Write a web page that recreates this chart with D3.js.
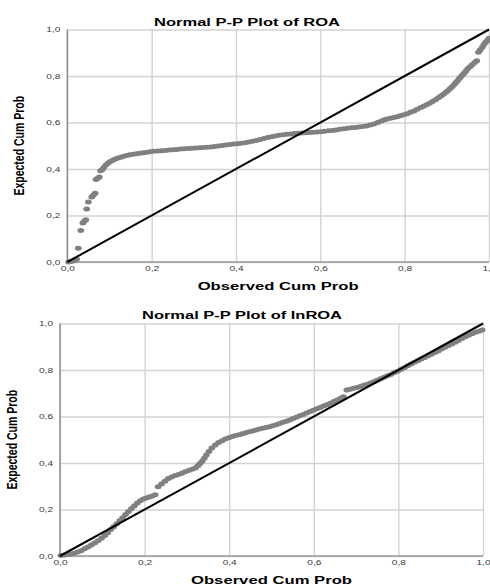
<!DOCTYPE html>
<html>
<head>
<meta charset="utf-8">
<script src="https://cdn.jsdelivr.net/npm/d3@7"></script>
<style>
  body { margin: 0; background: #fff; }
  svg { display: block; }
</style>
</head>
<body>
<div class="pp-charts"></div>
<script>
// Normal P-P plots (SPSS style), two panels stacked

var tick_values = [0, 0.2, 0.4, 0.6, 0.8, 1.0];
var x_label = "Observed Cum Prob";
var y_label = "Expected Cum Prob";

var roa_title = "Normal P-P Plot of ROA";
// [observed cum prob, expected cum prob]
var roa_points = [
  [0.003,0.000],[0.008,0.002],[0.013,0.004],[0.018,0.006],[0.022,0.012],[0.026,0.059],[0.032,0.135],
  [0.037,0.168],[0.040,0.175],[0.044,0.182],[0.046,0.228],[0.050,0.258],[0.058,0.280],[0.062,0.288],
  [0.066,0.296],[0.068,0.355],[0.072,0.360],[0.076,0.366],[0.079,0.392],[0.083,0.398],[0.087,0.408],
  [0.092,0.418],[0.097,0.426],[0.102,0.432],[0.108,0.438],[0.114,0.443],[0.120,0.447],[0.127,0.451],
  [0.134,0.455],[0.141,0.458],[0.148,0.461],[0.156,0.463],[0.164,0.466],[0.172,0.468],[0.180,0.470],
  [0.188,0.472],[0.196,0.474],[0.205,0.476],[0.214,0.477],[0.223,0.479],[0.232,0.480],[0.241,0.482],
  [0.250,0.483],[0.259,0.484],[0.268,0.486],[0.277,0.487],[0.286,0.488],[0.295,0.489],[0.304,0.490],
  [0.313,0.491],[0.322,0.492],[0.331,0.494],[0.340,0.495],[0.349,0.497],[0.358,0.499],[0.367,0.501],
  [0.376,0.503],[0.385,0.505],[0.394,0.507],[0.403,0.509],[0.412,0.511],[0.421,0.513],[0.430,0.516],
  [0.439,0.519],[0.448,0.523],[0.457,0.527],[0.466,0.531],[0.475,0.535],[0.484,0.539],[0.493,0.542],
  [0.502,0.545],[0.511,0.547],[0.520,0.549],[0.529,0.551],[0.538,0.553],[0.547,0.554],[0.556,0.555],
  [0.565,0.556],[0.574,0.557],[0.583,0.558],[0.592,0.559],[0.601,0.560],[0.610,0.562],[0.619,0.564],
  [0.628,0.566],[0.637,0.568],[0.646,0.571],[0.655,0.573],[0.664,0.575],[0.673,0.577],[0.682,0.579],
  [0.691,0.581],[0.700,0.583],[0.709,0.585],[0.718,0.589],[0.727,0.594],[0.736,0.600],[0.745,0.606],
  [0.752,0.612],[0.758,0.615],[0.766,0.618],[0.774,0.621],[0.782,0.625],[0.790,0.629],[0.798,0.633],
  [0.806,0.638],[0.814,0.644],[0.822,0.650],[0.830,0.657],[0.838,0.664],[0.845,0.670],[0.852,0.676],
  [0.859,0.683],[0.866,0.690],[0.873,0.698],[0.880,0.706],[0.886,0.714],[0.892,0.722],[0.898,0.730],
  [0.903,0.738],[0.908,0.746],[0.913,0.755],[0.918,0.765],[0.922,0.773],[0.926,0.781],[0.930,0.790],
  [0.934,0.798],[0.938,0.806],[0.942,0.814],[0.946,0.823],[0.950,0.832],[0.955,0.840],[0.960,0.848],
  [0.966,0.858],[0.971,0.866],[0.975,0.902],[0.979,0.912],[0.984,0.924],[0.988,0.935],[0.992,0.945],
  [0.996,0.953],[1.000,0.962]
];

var lnroa_title = "Normal P-P Plot of lnROA";
var lnroa_points = [
  [0.002,0.002],[0.010,0.004],[0.018,0.006],[0.026,0.009],[0.034,0.012],[0.042,0.017],[0.050,0.023],
  [0.058,0.031],[0.066,0.039],[0.074,0.047],[0.082,0.056],[0.090,0.066],[0.098,0.076],[0.106,0.088],
  [0.113,0.100],[0.120,0.114],[0.127,0.126],[0.134,0.139],[0.141,0.152],[0.148,0.165],[0.155,0.178],
  [0.162,0.191],[0.169,0.204],[0.176,0.216],[0.183,0.228],[0.190,0.238],[0.197,0.245],[0.204,0.250],
  [0.211,0.254],[0.218,0.258],[0.225,0.263],[0.232,0.298],[0.240,0.310],[0.248,0.322],[0.256,0.333],
  [0.264,0.340],[0.272,0.346],[0.280,0.351],[0.288,0.356],[0.296,0.362],[0.304,0.368],[0.312,0.373],
  [0.320,0.378],[0.326,0.388],[0.331,0.398],[0.336,0.408],[0.341,0.420],[0.346,0.434],[0.352,0.450],
  [0.359,0.464],[0.367,0.477],[0.375,0.488],[0.383,0.496],[0.391,0.503],[0.399,0.509],[0.407,0.514],
  [0.415,0.518],[0.423,0.522],[0.431,0.526],[0.439,0.530],[0.447,0.534],[0.455,0.538],[0.463,0.542],
  [0.471,0.546],[0.479,0.550],[0.487,0.553],[0.495,0.556],[0.503,0.560],[0.511,0.565],[0.519,0.570],
  [0.527,0.575],[0.535,0.580],[0.543,0.585],[0.551,0.591],[0.559,0.597],[0.567,0.603],[0.575,0.609],
  [0.583,0.615],[0.591,0.621],[0.599,0.627],[0.607,0.633],[0.615,0.639],[0.623,0.645],[0.631,0.651],
  [0.639,0.657],[0.647,0.664],[0.655,0.671],[0.663,0.678],[0.670,0.685],[0.678,0.714],[0.686,0.717],
  [0.694,0.721],[0.702,0.725],[0.710,0.729],[0.718,0.734],[0.726,0.739],[0.734,0.744],[0.742,0.750],
  [0.750,0.756],[0.758,0.762],[0.766,0.769],[0.774,0.775],[0.782,0.781],[0.790,0.788],[0.798,0.795],
  [0.806,0.802],[0.814,0.810],[0.822,0.818],[0.830,0.826],[0.838,0.833],[0.846,0.840],[0.854,0.847],
  [0.862,0.854],[0.870,0.861],[0.878,0.868],[0.886,0.875],[0.894,0.882],[0.902,0.890],[0.910,0.898],
  [0.918,0.905],[0.926,0.912],[0.934,0.919],[0.942,0.927],[0.950,0.935],[0.958,0.943],[0.966,0.950],
  [0.974,0.956],[0.982,0.962],[0.990,0.967],[0.998,0.972]
];

var svg = d3.select('.pp-charts')
  .append('svg')
    .attr('width', 490)
    .attr('height', 585);

// comma as decimal mark: 0,2 0,4 ...
var comma = d3.formatLocale({decimal: ",", thousands: ".", grouping: [3], currency: ["", ""]}).format(".1f");

// the source picture is stretched sideways, so is its text
var stretch = 1.45;
var font = "'Liberation Sans', Arial, sans-serif";

function drawPP(cfg) {
  var w = cfg.right - cfg.left;
  var h = cfg.bottom - cfg.top;

  var x = d3.scaleLinear().domain([0, 1]).range([0, w]);
  var y = d3.scaleLinear().domain([0, 1]).range([h, 0]);

  var g = svg.append('g')
    .attr('transform', 'translate(' + cfg.left + ',' + cfg.top + ')');

  // grid + tick labels
  var xAxis = g.append('g')
    .attr('transform', 'translate(0,' + h + ')')
    .call(d3.axisBottom(x).tickValues(tick_values).tickFormat(comma).tickSize(-h).tickPadding(4.5));
  var yAxis = g.append('g')
    .call(d3.axisLeft(y).tickValues(tick_values).tickFormat(comma).tickSize(-w).tickPadding(4.8));

  [xAxis, yAxis].forEach(function(a) {
    a.select('.domain').remove();
    a.selectAll('line').attr('stroke', '#d3d3d3').attr('stroke-width', 1.4);
    a.selectAll('text')
      .attr('fill', '#3a3a3a')
      .style('font-family', font)
      .style('font-size', '7px')
      .attr('transform', 'scale(' + stretch + ',1)');
  });

  // left and bottom axis lines
  g.append('line').attr('x1', 0).attr('x2', 0).attr('y1', 0).attr('y2', h)
    .attr('stroke', '#8a8a8a').attr('stroke-width', 1.4);
  g.append('line').attr('x1', 0).attr('x2', w).attr('y1', h).attr('y2', h)
    .attr('stroke', '#9a9a9a').attr('stroke-width', 1.4);

  // points
  g.selectAll('ellipse.pt')
    .data(cfg.points)
    .enter()
    .append('ellipse')
      .attr('class', 'pt')
      .attr('cx', function(d) { return x(d[0]); })
      .attr('cy', function(d) { return y(d[1]); })
      .attr('rx', 3.4)
      .attr('ry', 2.5)
      .attr('fill', '#808080');

  // reference diagonal
  g.append('line')
    .attr('x1', x(0)).attr('y1', y(0))
    .attr('x2', x(1)).attr('y2', y(1))
    .attr('stroke', '#000')
    .attr('stroke-width', 2);

  // title
  svg.append('text')
    .attr('x', cfg.titleX)
    .attr('y', cfg.titleY)
    .attr('text-anchor', 'middle')
    .attr('textLength', cfg.titleLen)
    .attr('lengthAdjust', 'spacingAndGlyphs')
    .style('font-family', font)
    .style('font-weight', 'bold')
    .style('font-size', '10.5px')
    .text(cfg.title);

  // x title
  svg.append('text')
    .attr('x', cfg.left + w / 2)
    .attr('y', cfg.xTitleY)
    .attr('text-anchor', 'middle')
    .attr('textLength', 161)
    .attr('lengthAdjust', 'spacingAndGlyphs')
    .style('font-family', font)
    .style('font-weight', 'bold')
    .style('font-size', '11px')
    .text(x_label);

  // y title
  svg.append('text')
    .attr('transform', 'translate(' + cfg.yTitleX + ',' + (cfg.top + h / 2) + ') scale(1.4,1) rotate(-90)')
    .attr('text-anchor', 'middle')
    .style('font-family', font)
    .style('font-weight', 'bold')
    .style('font-size', '10.5px')
    .text(y_label);
}

drawPP({
  points: roa_points, title: roa_title,
  left: 67.3, right: 489, top: 29.5, bottom: 262,
  titleX: 247, titleY: 25.5, titleLen: 186,
  xTitleY: 290, yTitleX: 24
});

drawPP({
  points: lnroa_points, title: lnroa_title,
  left: 60, right: 483, top: 323.5, bottom: 556,
  titleX: 242, titleY: 319, titleLen: 200,
  xTitleY: 584, yTitleX: 17
});
</script>
</body>
</html>
